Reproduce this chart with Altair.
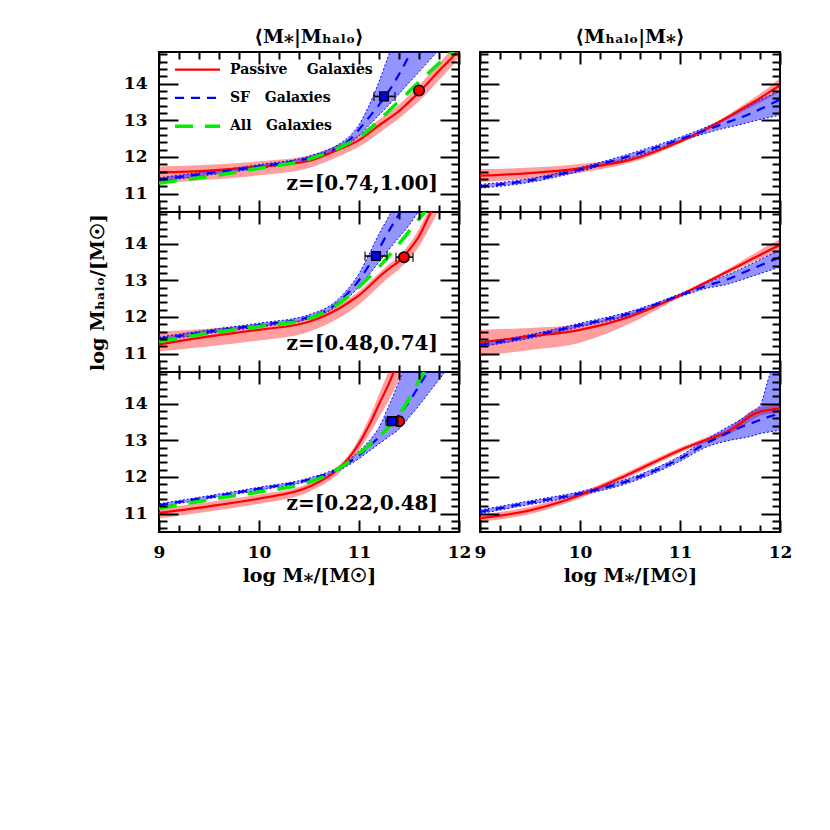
import altair as alt
import pandas as pd

FONT = "DejaVu Serif"

# ---------------- data ----------------
X_L = [9.0, 9.5, 10.0, 10.5, 10.8, 10.9, 11.0, 11.1, 11.2, 11.3, 11.4, 11.5, 11.6, 11.7, 11.8, 11.9, 12.0]
X_R = [9.0, 9.5, 10.0, 10.5, 11.0, 11.25, 11.5, 11.6, 11.7, 11.8, 11.9, 12.0]

# <M*|Mhalo>, z=[0.74,1.00]
TL_RED     = [11.58, 11.63, 11.74, 11.89, 12.21, 12.32, 12.46, 12.65, 12.86, 13.05, 13.25, 13.50, 13.76, 14.05, 14.35, 14.62, 14.92]
TL_RED_LO  = [11.29, 11.38, 11.50, 11.70, 12.02, 12.14, 12.28, 12.45, 12.65, 12.85, 13.05, 13.28, 13.52, 13.80, 14.10, 14.38, 14.70]
TL_RED_HI  = [11.74, 11.79, 11.88, 12.04, 12.34, 12.45, 12.60, 12.80, 13.02, 13.22, 13.42, 13.68, 13.95, 14.25, 14.55, 14.85, 15.15]
TL_GREEN   = [11.29, 11.47, 11.69, 11.94, 12.25, 12.38, 12.53, 12.75, 13.00, 13.26, 13.52, 13.78, 14.04, 14.30, 14.55, 14.78, 15.00]
TL_BLUE    = [11.38, 11.56, 11.74, 11.97, 12.27, 12.45, 12.75, 13.08, 13.42, 13.80, 14.25, 14.75, 15.25, 15.75, 16.0, 16.0, 16.0]
TL_BLUE_LO = [11.33, 11.51, 11.69, 11.92, 12.20, 12.36, 12.58, 12.86, 13.14, 13.42, 13.72, 14.02, 14.32, 14.62, 14.92, 15.20, 15.45]
TL_BLUE_HI = [11.43, 11.61, 11.79, 12.02, 12.35, 12.55, 12.88, 13.40, 14.05, 14.80, 15.50, 16.0, 16.0, 16.0, 16.0, 16.0, 16.0]

# z=[0.48,0.74]
ML_RED     = [11.25, 11.47, 11.65, 11.87, 12.23, 12.40, 12.59, 12.83, 13.09, 13.32, 13.52, 13.82, 14.20, 14.75, 15.30, 15.80, 16.0]
ML_RED_LO  = [11.06, 11.20, 11.36, 11.60, 11.97, 12.14, 12.34, 12.58, 12.84, 13.08, 13.30, 13.58, 13.92, 14.40, 14.92, 15.40, 15.80]
ML_RED_HI  = [11.60, 11.68, 11.80, 11.98, 12.32, 12.50, 12.70, 12.94, 13.20, 13.44, 13.66, 13.98, 14.40, 14.95, 15.50, 16.0, 16.0]
ML_GREEN   = [11.33, 11.56, 11.74, 11.96, 12.37, 12.58, 12.82, 13.08, 13.36, 13.67, 13.99, 14.33, 14.67, 15.00, 15.35, 15.70, 16.0]
ML_BLUE    = [11.40, 11.60, 11.78, 12.00, 12.41, 12.68, 13.00, 13.41, 13.86, 14.35, 14.80, 15.30, 15.80, 16.0, 16.0, 16.0, 16.0]
ML_BLUE_LO = [11.35, 11.55, 11.73, 11.95, 12.33, 12.55, 12.82, 13.15, 13.50, 13.84, 14.17, 14.50, 14.90, 15.30, 15.70, 16.0, 16.0]
ML_BLUE_HI = [11.45, 11.65, 11.83, 12.06, 12.50, 12.80, 13.18, 13.70, 14.26, 14.75, 15.30, 15.80, 16.0, 16.0, 16.0, 16.0, 16.0]

# z=[0.22,0.48]
BL_RED     = [11.02, 11.20, 11.41, 11.73, 12.23, 12.52, 12.91, 13.40, 13.98, 14.55, 15.20, 15.80, 16.0, 16.0, 16.0, 16.0, 16.0]
BL_RED_LO  = [10.87, 11.06, 11.27, 11.60, 12.10, 12.38, 12.72, 13.15, 13.62, 14.10, 14.65, 15.25, 15.80, 16.0, 16.0, 16.0, 16.0]
BL_RED_HI  = [11.14, 11.32, 11.52, 11.83, 12.32, 12.62, 13.05, 13.60, 14.25, 14.90, 15.50, 16.0, 16.0, 16.0, 16.0, 16.0, 16.0]
BL_GREEN   = [11.14, 11.38, 11.59, 11.86, 12.23, 12.42, 12.64, 12.86, 13.09, 13.38, 13.70, 14.12, 14.62, 15.10, 15.50, 15.90, 16.0]
BL_BLUE    = [11.23, 11.45, 11.68, 11.93, 12.23, 12.40, 12.59, 12.83, 13.09, 13.38, 13.68, 14.05, 14.48, 14.92, 15.35, 15.80, 16.0]
BL_BLUE_LO = [11.19, 11.41, 11.64, 11.89, 12.18, 12.33, 12.50, 12.70, 12.90, 13.10, 13.30, 13.62, 13.95, 14.30, 14.65, 15.00, 15.35]
BL_BLUE_HI = [11.27, 11.49, 11.72, 11.97, 12.28, 12.47, 12.70, 12.98, 13.35, 13.95, 14.60, 15.30, 16.0, 16.0, 16.0, 16.0, 16.0]

# <Mhalo|M*>
TR_RED     = [11.49, 11.56, 11.69, 11.92, 12.42, 12.74, 13.12, 13.28, 13.44, 13.60, 13.78, 13.95]
TR_RED_LO  = [11.31, 11.41, 11.57, 11.84, 12.37, 12.70, 13.06, 13.20, 13.34, 13.48, 13.63, 13.76]
TR_RED_HI  = [11.67, 11.71, 11.81, 12.00, 12.47, 12.78, 13.18, 13.36, 13.54, 13.72, 13.93, 14.15]
TR_BLUE    = [11.20, 11.36, 11.66, 12.03, 12.48, 12.72, 12.97, 13.07, 13.18, 13.30, 13.43, 13.57]
TR_BLUE_LO = [11.15, 11.31, 11.61, 11.97, 12.42, 12.64, 12.82, 12.88, 12.95, 13.02, 13.08, 13.14]
TR_BLUE_HI = [11.25, 11.41, 11.71, 12.09, 12.54, 12.80, 13.12, 13.26, 13.40, 13.55, 13.68, 13.81]

MR_RED     = [11.31, 11.47, 11.65, 12.01, 12.59, 12.93, 13.27, 13.41, 13.55, 13.69, 13.83, 13.96]
MR_RED_LO  = [10.93, 11.10, 11.30, 11.82, 12.54, 12.89, 13.21, 13.34, 13.46, 13.58, 13.69, 13.80]
MR_RED_HI  = [11.65, 11.70, 11.80, 12.10, 12.64, 12.97, 13.34, 13.50, 13.66, 13.82, 13.98, 14.12]
MR_BLUE    = [11.24, 11.47, 11.78, 12.10, 12.59, 12.84, 13.05, 13.17, 13.29, 13.40, 13.52, 13.63]
MR_BLUE_LO = [11.19, 11.42, 11.73, 12.05, 12.55, 12.77, 12.91, 13.00, 13.09, 13.18, 13.27, 13.36]
MR_BLUE_HI = [11.29, 11.52, 11.83, 12.15, 12.63, 12.91, 13.18, 13.30, 13.43, 13.56, 13.69, 13.81]

BR_RED     = [10.88, 11.09, 11.50, 12.09, 12.73, 13.00, 13.27, 13.45, 13.66, 13.78, 13.83, 13.86]
BR_RED_LO  = [10.78, 10.99, 11.42, 12.01, 12.66, 12.93, 13.18, 13.33, 13.52, 13.66, 13.72, 13.74]
BR_RED_HI  = [10.98, 11.19, 11.58, 12.17, 12.80, 13.07, 13.36, 13.57, 13.78, 13.90, 13.94, 13.98]
BR_BLUE    = [11.05, 11.30, 11.55, 11.91, 12.50, 12.90, 13.23, 13.35, 13.45, 13.55, 13.65, 13.74]
BR_BLUE_LO = [11.00, 11.25, 11.50, 11.85, 12.43, 12.80, 13.00, 13.05, 13.10, 13.18, 13.23, 13.27]
BR_BLUE_HI = [11.10, 11.35, 11.60, 11.97, 12.57, 13.00, 13.40, 13.55, 13.75, 13.95, 14.80, 15.30]

# points with horizontal error bars: x, y, xlo, xhi
TL_SF_PT  = [11.25, 13.65, 11.15, 11.36]
TL_PAS_PT = [11.60, 13.81, 11.57, 11.63]
ML_SF_PT  = [11.17, 13.66, 11.06, 11.28]
ML_PAS_PT = [11.45, 13.63, 11.37, 11.54]
BL_SF_PT  = [11.33, 13.52, 11.27, 11.39]
BL_PAS_PT = [11.40, 13.52, 11.35, 11.43]

Z_LABELS = ["z=[0.74,1.00]", "z=[0.48,0.74]", "z=[0.22,0.48]"]
NB = "\u00a0"
LEGEND_LABELS = ["Passive" + NB * 4 + "Galaxies", "SF" + NB * 3 + "Galaxies", "All" + NB * 3 + "Galaxies"]
X_MAJOR = [9, 10, 11, 12]
Y_MAJOR = [11, 12, 13, 14]

TITLE_L = "⟨M⁎|Mₕₐₗₒ⟩"
TITLE_R = "⟨Mₕₐₗₒ|M⁎⟩"
XTITLE = "log M⁎/[M☉]"
YTITLE = "log Mₕₐₗₒ/[M☉]"

# ---------------- layout / style constants ----------------
XDOM = [9, 12]
YDOM = [10.5, 14.86]
W, H = 300, 160
X_MINOR = [round(9 + 0.2 * i, 1) for i in range(16) if i % 5]
Y_MINOR = [round(10.6 + 0.2 * i, 1) for i in range(22) if round(10.6 + 0.2 * i, 1) not in (11.0, 12.0, 13.0, 14.0)]

XS = alt.Scale(domain=XDOM, nice=False, zero=False)
YS = alt.Scale(domain=YDOM, nice=False, zero=False)

RED = "#ff0000"
BLUE = "#0000ff"
GREEN = "#00ee00"

ZTXT_X, ZTXT_Y = 11.79, 11.25
LEG_X0, LEG_X1, LEG_XT = 9.16, 9.61, 9.71
LEG_Y0, LEG_DY = 14.38, 0.77

COMMON = dict(domain=False, grid=False, tickColor="black", tickWidth=2, zindex=1,
              labelFlush=False, labelOverlap=False, labelFont=FONT, labelFontSize=17,
              labelFontWeight="bold", labelColor="black", titleFont=FONT, titleFontSize=19,
              titleFontWeight="bold", titleColor="black")


def axes(xlab, ylab, xtitle, ytitle):
    xb = alt.Axis(orient="bottom", values=X_MAJOR, tickSize=12, offset=-12, labels=xlab,
                  labelPadding=12, format="d", title=xtitle, titlePadding=6, **COMMON)
    xbm = alt.Axis(orient="bottom", values=X_MINOR, tickSize=7, offset=-7, labels=False, title=None, **COMMON)
    xt = alt.Axis(orient="top", values=X_MAJOR, tickSize=12, offset=-12, labels=False, title=None, **COMMON)
    xtm = alt.Axis(orient="top", values=X_MINOR, tickSize=7, offset=-7, labels=False, title=None, **COMMON)
    yl = alt.Axis(orient="left", values=Y_MAJOR, tickSize=19, offset=-19, labels=ylab,
                  labelPadding=12, format="d", title=ytitle, titlePadding=16, **COMMON)
    ylm = alt.Axis(orient="left", values=Y_MINOR, tickSize=8, offset=-8, labels=False, title=None, **COMMON)
    yr = alt.Axis(orient="right", values=Y_MAJOR, tickSize=19, offset=-19, labels=False, title=None, **COMMON)
    yrm = alt.Axis(orient="right", values=Y_MINOR, tickSize=8, offset=-8, labels=False, title=None, **COMMON)
    return xb, xbm, xt, xtm, yl, ylm, yr, yrm


def panel(xs, red, red_lo, red_hi, blue, blue_lo, blue_hi, green=None, sf_pt=None, pas_pt=None,
          ztext=None, legend=False, xlab=False, ylab=False, xtitle=None, ytitle=None, title=None):
    df = pd.DataFrame({"x": xs, "red": red, "rlo": red_lo, "rhi": red_hi,
                       "blue": blue, "blo": blue_lo, "bhi": blue_hi})
    if green is not None:
        df["green"] = green
    xb, xbm, xt, xtm, yl, ylm, yr, yrm = axes(xlab, ylab, xtitle, ytitle)
    base = alt.Chart(df)
    NX = alt.X("x:Q", scale=XS, axis=None)
    layers = [
        base.mark_area(color=RED, opacity=0.38, interpolate="monotone", clip=True).encode(
            x=alt.X("x:Q", scale=XS, axis=xb), y=alt.Y("rlo:Q", scale=YS, axis=yl), y2="rhi:Q"),
        base.mark_area(color=BLUE, opacity=0.42, interpolate="monotone", clip=True).encode(
            x=alt.X("x:Q", scale=XS, axis=xbm), y=alt.Y("blo:Q", scale=YS, axis=ylm), y2="bhi:Q"),
        base.mark_line(color=BLUE, strokeWidth=1, strokeDash=[2, 2], interpolate="monotone", clip=True).encode(
            x=NX, y=alt.Y("blo:Q", scale=YS, axis=None)),
        base.mark_line(color=BLUE, strokeWidth=1, strokeDash=[2, 2], interpolate="monotone", clip=True).encode(
            x=NX, y=alt.Y("bhi:Q", scale=YS, axis=None)),
        base.mark_line(color=RED, strokeWidth=2.2, interpolate="monotone", clip=True).encode(
            x=alt.X("x:Q", scale=XS, axis=xt), y=alt.Y("red:Q", scale=YS, axis=yr)),
        base.mark_line(color=BLUE, strokeWidth=2.2, strokeDash=[9, 7], interpolate="monotone", clip=True).encode(
            x=alt.X("x:Q", scale=XS, axis=xtm), y=alt.Y("blue:Q", scale=YS, axis=yrm)),
    ]
    if green is not None:
        layers.append(base.mark_line(color=GREEN, strokeWidth=3.5, strokeDash=[18, 12],
                                     interpolate="monotone", clip=True).encode(
            x=NX, y=alt.Y("green:Q", scale=YS, axis=None)))
    for pt, kind in ((pas_pt, "pas"), (sf_pt, "sf")):
        if pt is None:
            continue
        pdf = pd.DataFrame({"x": [pt[0]], "y": [pt[1]], "xlo": [pt[2]], "xhi": [pt[3]]})
        pb = alt.Chart(pdf)
        Y = alt.Y("y:Q", scale=YS, axis=None)
        layers.append(pb.mark_rule(color="black", strokeWidth=1.6).encode(
            x=alt.X("xlo:Q", scale=XS, axis=None), x2="xhi:Q", y=Y))
        for c in ("xlo", "xhi"):
            layers.append(pb.mark_tick(orient="vertical", color="black", thickness=1.6, size=9).encode(
                x=alt.X(c + ":Q", scale=XS, axis=None), y=Y))
        if kind == "pas":
            layers.append(pb.mark_point(shape="circle", filled=True, fill=RED, stroke="black",
                                        strokeWidth=1.5, size=110, opacity=1).encode(x=NX, y=Y))
        else:
            layers.append(pb.mark_point(shape="square", filled=True, fill=BLUE, stroke="black",
                                        strokeWidth=1.5, size=75, opacity=1).encode(x=NX, y=Y))
    if ztext is not None:
        zdf = pd.DataFrame({"x": [ZTXT_X], "y": [ZTXT_Y], "t": [ztext]})
        layers.append(alt.Chart(zdf).mark_text(align="right", baseline="middle", font=FONT, fontSize=20,
                                               fontWeight="bold", color="black").encode(
            x=NX, y=alt.Y("y:Q", scale=YS, axis=None), text="t:N"))
    if legend:
        styles = [dict(color=RED, strokeWidth=2.2),
                  dict(color=BLUE, strokeWidth=2.2, strokeDash=[9, 7]),
                  dict(color=GREEN, strokeWidth=3.5, strokeDash=[18, 12])]
        ldf = pd.DataFrame({"x": [LEG_X0] * 3, "x2": [LEG_X1] * 3, "xt": [LEG_XT] * 3,
                            "y": [LEG_Y0 - i * LEG_DY for i in range(3)], "t": LEGEND_LABELS})
        for i, st in enumerate(styles):
            layers.append(alt.Chart(ldf.iloc[[i]]).mark_rule(**st).encode(
                x=NX, x2="x2:Q", y=alt.Y("y:Q", scale=YS, axis=None)))
        layers.append(alt.Chart(ldf).mark_text(align="left", baseline="middle", font=FONT, fontSize=14,
                                               fontWeight="bold", color="black").encode(
            x=alt.X("xt:Q", scale=XS, axis=None), y=alt.Y("y:Q", scale=YS, axis=None), text="t:N"))
    ch = alt.layer(*layers).resolve_axis(x="independent", y="independent").properties(width=W, height=H)
    if title is not None:
        ch = ch.properties(title=alt.TitleParams(title, font=FONT, fontSize=19, fontWeight="bold",
                                                 color="black", offset=4))
    return ch


TL = panel(X_L, TL_RED, TL_RED_LO, TL_RED_HI, TL_BLUE, TL_BLUE_LO, TL_BLUE_HI, TL_GREEN,
           TL_SF_PT, TL_PAS_PT, Z_LABELS[0], legend=True, ylab=True, title=TITLE_L)
ML = panel(X_L, ML_RED, ML_RED_LO, ML_RED_HI, ML_BLUE, ML_BLUE_LO, ML_BLUE_HI, ML_GREEN,
           ML_SF_PT, ML_PAS_PT, Z_LABELS[1], ylab=True, ytitle=YTITLE)
BL = panel(X_L, BL_RED, BL_RED_LO, BL_RED_HI, BL_BLUE, BL_BLUE_LO, BL_BLUE_HI, BL_GREEN,
           BL_SF_PT, BL_PAS_PT, Z_LABELS[2], ylab=True, xlab=True, xtitle=XTITLE)
TR = panel(X_R, TR_RED, TR_RED_LO, TR_RED_HI, TR_BLUE, TR_BLUE_LO, TR_BLUE_HI, title=TITLE_R)
MR = panel(X_R, MR_RED, MR_RED_LO, MR_RED_HI, MR_BLUE, MR_BLUE_LO, MR_BLUE_HI)
BR = panel(X_R, BR_RED, BR_RED_LO, BR_RED_HI, BR_BLUE, BR_BLUE_LO, BR_BLUE_HI, xlab=True, xtitle=XTITLE)

chart = alt.concat(TL, TR, ML, MR, BL, BR, columns=2, spacing={"row": 0, "column": 21},
                   bounds="flush").properties(
    padding={"left": 79, "top": 19, "right": 5, "bottom": 5}
).configure_view(stroke="black", strokeWidth=2)

chart.save("out.html", embed_options={"renderer": "svg", "actions": False})
